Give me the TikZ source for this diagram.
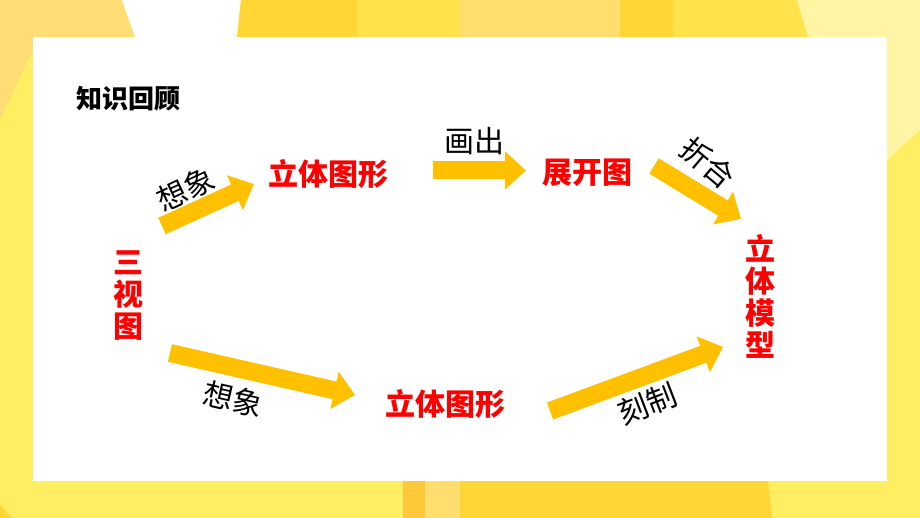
\documentclass[tikz,border=0pt]{standalone}
\usepackage{fontspec}
\newfontfamily\cjk{Noto Sans CJK SC}
\usetikzlibrary{arrows.meta}
\definecolor{arrowc}{HTML}{FFC000}
\definecolor{bgbase}{HTML}{FFEE62}
\definecolor{bgorange}{HTML}{FFDD75}
\definecolor{bggold}{HTML}{FFD636}
\definecolor{bgmid}{HTML}{FFE24C}
\definecolor{bgpale}{HTML}{FFF5A5}
\definecolor{bgstrip}{HTML}{FFC83A}
\definecolor{bglite}{HTML}{FFDE70}
\tikzset{
  blockarrow/.style={draw=arrowc, line width=18pt, line cap=butt,
    -{Triangle[width=37pt,length=21pt]}},
  redt/.style={font=\cjk\bfseries\fontsize{30}{32}\selectfont, text=red, inner sep=0pt, align=center},
  blkt/.style={font=\cjk\fontsize{30}{32}\selectfont, text=black, inner sep=0pt},
  titlet/.style={font=\cjk\bfseries\fontsize{26}{28}\selectfont, text=black, inner sep=0pt}
}
\begin{document}
\begin{tikzpicture}[x=1pt,y=-1pt]
\useasboundingbox (0,0) rectangle (920,518);
% background
\fill[bgbase] (0,0) rectangle (920,518);
\fill[bgorange] (0,0) -- (122,0) -- (135,37) -- (33,37) -- (33,50) -- (0,120) -- cycle;
\fill[white] (122,0) -- (241,0) -- (237,37) -- (135,37) -- cycle;
\fill[bggold] (241,0) -- (357,0) -- (357,37) -- (237,37) -- cycle;
\fill[bgmid] (357,0) -- (460,0) -- (460,37) -- (357,37) -- cycle;
\fill[bglite] (460,0) -- (620,0) -- (620,37) -- (460,37) -- cycle;
\fill[bggold] (620,0) -- (673,0) -- (673,37) -- (620,37) -- cycle;
\fill[bgmid] (673,0) -- (797,0) -- (808,37) -- (673,37) -- cycle;
\fill[bgpale] (797,0) -- (920,0) -- (920,130) -- (887,160) -- (887,37) -- (808,37) -- cycle;
\fill[bgstrip] (403,481) -- (425,481) -- (425,518) -- (403,518) -- cycle;
\fill[bglite] (425,481) -- (460,481) -- (460,518) -- (425,518) -- cycle;
\fill[bggold] (460,481) -- (768,481) -- (772,518) -- (460,518) -- cycle;
\fill[bggold] (0,505) -- (12,518) -- (0,518) -- cycle;
% white panel
\fill[white] (33,37) rectangle (887,481);

% texts
\node[titlet] (title) at (128.5,99) {知识回顾};
\node[redt] (svt) at (128.5,296) {三\\视\\图};
\node[redt] (lt1) at (328,174) {立体图形};
\node[redt] (zkt) at (587,172.5) {展开图};
\node[redt] (ltm) at (760,296) {立\\体\\模\\型};
\node[redt] (lt2) at (445,404) {立体图形};

\node[blkt, rotate=25] (xx1) at (186,189) {想象};
\node[blkt] (hc) at (474.5,141) {画出};
\node[blkt, rotate=-40] (zh) at (708,163) {折合};
\node[blkt, rotate=-13] (xx2) at (233,399) {想象};
\node[blkt, rotate=21] (kz) at (647,404) {刻制};

% arrows
\coordinate (a1s) at (162,226); \coordinate (a1e) at (254,184);
\coordinate (a2s) at (433,170.5); \coordinate (a2e) at (526,170.5);
\coordinate (a3s) at (654,166); \coordinate (a3e) at (741,219);
\coordinate (a4s) at (170,353); \coordinate (a4e) at (355,395);
\coordinate (a5s) at (550,411); \coordinate (a5e) at (723,347);
\draw[blockarrow] (a1s) -- (a1e);
\draw[blockarrow] (a2s) -- (a2e);
\draw[blockarrow] (a3s) -- (a3e);
\draw[blockarrow] (a4s) -- (a4e);
\draw[blockarrow] (a5s) -- (a5e);
\end{tikzpicture}
\end{document}
